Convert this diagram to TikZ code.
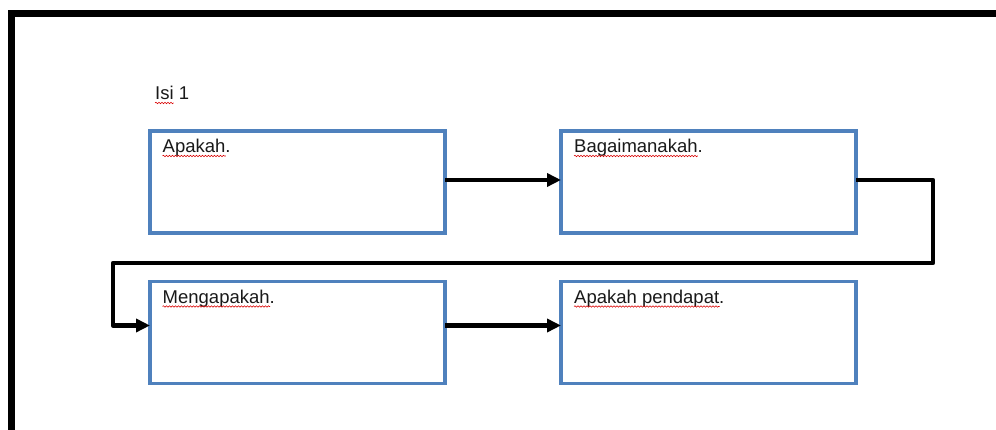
\documentclass[tikz,border=0pt]{standalone}
\usepackage{fontspec}
\setmainfont{Liberation Sans}
\usetikzlibrary{shapes, arrows.meta, positioning, calc, decorations.pathmorphing}
\definecolor{boxblue}{HTML}{4F81BD}

\begin{document}
\begin{tikzpicture}[x=1pt, y=1pt, node distance=116pt, every node/.style={font=\fontsize{18.5}{22}\selectfont}]

    % Box and line styles
    \tikzstyle{box} = [rectangle, minimum width=295pt, minimum height=102pt, draw=boxblue, fill=white, line width=3.3pt, outer sep=0pt, inner sep=0pt]
    \tikzstyle{caption} = [inner sep=0pt, anchor=base west, text=black!90]
    \tikzstyle{arrow} = [line width=4.3pt, line join=round, -{Triangle[length=14pt,width=13pt]}]
    \tikzstyle{squiggle} = [red!85!black, line width=0.6pt, decorate, decoration={snake, amplitude=0.7pt, segment length=3pt}]

    % Page and frame
    \useasboundingbox (0,0) rectangle (996,430);
    \draw[line width=7pt] (11,0) -- (11,416.5) -- (996,416.5);

    % Place nodes
    \node (heading) [caption] at (155,330) {Isi 1};
    \node (apakah) [box] at (297.5,248) {};
    \node (bagaimana) [box, right=of apakah] {};
    \node (mengapa) [box, below=48.5pt of apakah] {};
    \node (pendapat) [box, right=of mengapa] {};

    \node (t1) [caption] at ($(apakah.north west)+(12.5,-22)$) {Apakah.};
    \node (t2) [caption] at ($(bagaimana.north west)+(13,-22)$) {Bagaimanakah.};
    \node (t3) [caption] at ($(mengapa.north west)+(12.5,-22)$) {Mengapakah.};
    \node (t4) [caption] at ($(pendapat.north west)+(13,-22)$) {Apakah pendapat.};

    % Spelling marks
    \draw[squiggle] ($(heading.base west)+(0,-3)$) -- ++(18.5,0);
    \draw[squiggle] ($(t1.base west)+(0,-3)$) -- ($(t1.base east)+(-5,-3)$);
    \draw[squiggle] ($(t2.base west)+(0,-3)$) -- ($(t2.base east)+(-5,-3)$);
    \draw[squiggle] ($(t3.base west)+(0,-3)$) -- ($(t3.base east)+(-5,-3)$);
    \draw[squiggle] ($(t4.base west)+(0,-3)$) -- ($(t4.base east)+(-5,-3)$);

    % Draw arrows
    \coordinate (loopR) at (933,167);
    \coordinate (loopL) at (113,167);
    \draw [arrow] ([yshift=2pt]apakah.east) -- ([yshift=2pt]bagaimana.west);
    \draw [arrow] ([yshift=2pt]bagaimana.east) -| (loopR) -- (loopL) |- ([yshift=7pt]mengapa.west);
    \draw [arrow] ([yshift=7pt]mengapa.east) -- ([yshift=7pt]pendapat.west);

\end{tikzpicture}
\end{document}
